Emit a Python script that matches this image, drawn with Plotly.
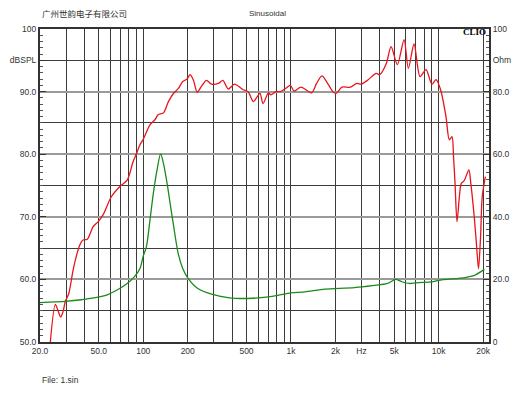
import math
import plotly.graph_objects as go

# ---------------- data ----------------
spl_freq = [23.0, 25.4, 26.5, 27.6, 28.6, 29.7, 31.3, 33.5, 35.5, 37.2, 39.1, 41.8, 45.7, 49.4,
            53.4, 60.8, 69.2, 78.0, 85.3, 90.0, 95.0, 100, 111, 120, 126, 137, 148, 160, 173,
            185, 198, 207, 218, 232, 247, 268, 290, 322, 346, 376, 415, 474, 511, 557, 591,
            617, 647, 703, 730, 793, 851, 920, 989, 1050, 1170, 1380, 1490, 1620, 1740, 1920,
            2020, 2210, 2520, 2790, 3000, 3330, 3780, 3980, 4420, 4760, 5250, 5830, 6230,
            6810, 7480, 8200, 9000, 9600, 10300, 11200, 11800, 12300, 12600, 12900, 13300,
            13800, 14200, 14900, 16000, 16500, 17400, 18000, 18600, 19200, 19700, 20700]
spl_db = [47.5, 56.0, 55.0, 54.0, 54.8, 56.5, 57.7, 61.5, 64.0, 65.5, 66.3, 66.4, 68.4, 69.2,
          70.3, 73.2, 74.8, 75.9, 78.8, 80.1, 81.5, 82.4, 84.7, 85.5, 86.3, 86.6, 88.4, 89.7, 90.5,
          91.6, 92.0, 92.7, 91.9, 89.9, 90.8, 91.8, 91.2, 91.3, 91.8, 90.4, 91.2, 90.3, 90.0, 88.4, 89.2,
          89.7, 88.1, 89.8, 89.5, 90.0, 90.0, 90.5, 91.0, 90.1, 90.7, 89.8, 91.3, 92.5, 91.6, 90.0,
          89.7, 90.7, 90.7, 91.3, 91.2, 91.9, 92.9, 92.7, 94.5, 97.2, 94.3, 98.3, 93.7,
          97.6, 92.4, 93.5, 91.2, 91.9, 90.3, 86.0, 82.3, 82.8, 79.6, 75.3, 69.2,
          73.2, 75.3, 75.8, 77.5, 75.3, 70.0, 65.7, 61.7, 66.8, 73.2, 76.4]

imp_freq = [20, 29.7, 38, 55, 67, 77, 87, 95, 100, 105, 111, 117, 124, 131, 137, 145, 152,
            160, 172, 185, 200, 234, 290, 374, 490, 599, 700, 816, 1000, 1240, 1700, 2700,
            4500, 5100, 5600, 6300, 7300, 9000, 10000, 15100, 17300, 20400]
imp_ohm = [12.6, 13.0, 13.5, 14.8, 16.7, 18.5, 20.8, 23.5, 27.5, 30.4, 38.9, 47.5, 55.0, 60.1,
           57.1, 50.7, 44.3, 37.5, 28.5, 23.5, 20.5, 17.1, 15.3, 14.2, 13.9, 14.1, 14.4, 14.9,
           15.7, 16.0, 16.9, 17.4, 18.7, 20.0, 19.3, 18.7, 19.0, 19.2, 19.7, 20.6, 21.2, 23.2]

x_tick_vals = [20, 50, 100, 200, 500, 1000, 2000, 3000, 5000, 10000, 20000]
x_tick_text = ["20.0", "50.0", "100", "200", "500", "1k", "2k", "Hz", "5k", "10k", "20k"]
x_minor_vals = [30, 40, 60, 70, 80, 90, 300, 400, 600, 700, 800, 900,
                4000, 6000, 7000, 8000, 9000]

y_left_vals = [50, 60, 70, 80, 90, 95, 100]
y_left_text = ["50.0", "60.0", "70.0", "80.0", "90.0", "dBSPL", "100"]
y_right_vals = [0, 20, 40, 60, 80, 90, 100]
y_right_text = ["0", "20.0", "40.0", "60.0", "80.0", "Ohm", "100"]
grid_major_db = [60, 70, 80, 90]
grid_minor_db = [55, 65, 75, 85, 95]

# ---------------- figure ----------------
FONT = "Liberation Sans, Arial, sans-serif"
TXT = "#333333"
GRID = "#3c3c3c"

fig = go.Figure()
# empty helper trace so that the grid-only axis (y3) is rendered
fig.add_trace(go.Scatter(x=[], y=[], yaxis="y3", mode="lines", hoverinfo="skip",
                         showlegend=False))
fig.add_trace(go.Scatter(x=imp_freq, y=imp_ohm, yaxis="y2", mode="lines",
                         line=dict(color="#1a8a1a", width=1.3, shape="spline", smoothing=0.8),
                         hoverinfo="skip"))
fig.add_trace(go.Scatter(x=spl_freq, y=spl_db, mode="lines",
                         line=dict(color="#e8141b", width=1.3, shape="spline", smoothing=0.8),
                         hoverinfo="skip"))

# page body has an 8px default margin, so the figure is slightly smaller
fig.update_layout(
    width=522, height=390,
    margin=dict(l=32, r=41, t=21, b=56, autoexpand=False),
    paper_bgcolor="white", plot_bgcolor="white",
    showlegend=False,
    font=dict(family=FONT, size=8.5, color=TXT),
    xaxis=dict(type="log", range=[math.log10(20), math.log10(21900)],
               tickmode="array", tickvals=x_tick_vals, ticktext=x_tick_text,
               ticks="", showgrid=True, gridcolor=GRID, gridwidth=1,
               minor=dict(tickvals=x_minor_vals, showgrid=True, gridcolor=GRID,
                          gridwidth=1, ticks=""),
               showline=True, mirror=True, linecolor="#333333", linewidth=2,
               zeroline=False, tickfont=dict(size=8.5, color=TXT), automargin=False),
    yaxis=dict(range=[50, 100], tickmode="array", tickvals=y_left_vals, ticktext=y_left_text,
               ticks="inside", ticklen=6, tickcolor="#333333", showgrid=False,
               minor=dict(dtick=1, ticks="inside", ticklen=3, tickcolor="#555555",
                          showgrid=False),
               showline=True, linecolor="#333333", linewidth=2, zeroline=False,
               tickfont=dict(size=8.5, color=TXT), automargin=False),
    yaxis2=dict(overlaying="y", side="right", range=[0, 100], tickmode="array",
                tickvals=y_right_vals, ticktext=y_right_text,
                ticks="inside", ticklen=6, tickcolor="#333333", showgrid=False,
                minor=dict(dtick=2, ticks="inside", ticklen=3, tickcolor="#555555",
                           showgrid=False),
                showline=True, linecolor="#333333", linewidth=2, zeroline=False,
                tickfont=dict(size=8.5, color=TXT), automargin=False),
    yaxis3=dict(overlaying="y", range=[50, 100], tickmode="array", tickvals=grid_major_db,
                showticklabels=False, ticks="", showgrid=True, gridcolor="#9a9a9a",
                gridwidth=2,
                minor=dict(tickvals=grid_minor_db, showgrid=True, gridcolor=GRID,
                           gridwidth=1, ticks=""),
                showline=False, zeroline=False, automargin=False),
)

fig.add_annotation(text="广州世韵电子有限公司", xref="paper", yref="paper",
                   x=0.0, y=(342 - 13) / 313, xanchor="left", yanchor="middle",
                   showarrow=False,
                   font=dict(family="Noto Sans CJK SC", size=8.5, color=TXT))
fig.add_annotation(text="Sinusoidal", xref="paper", yref="paper",
                   x=(246.5 - 40) / 449, y=(342 - 13) / 313, xanchor="left", yanchor="middle",
                   showarrow=False, font=dict(family=FONT, size=8, color=TXT))
fig.add_annotation(text="<b>CLIO</b>", xref="paper", yref="paper",
                   x=(488 - 40) / 449, y=(342 - 32) / 313, xanchor="right", yanchor="middle",
                   showarrow=False,
                   font=dict(family="Liberation Serif, Times New Roman, serif", size=9,
                             color="black"))
fig.add_annotation(text="File: 1.sin", xref="paper", yref="paper",
                   x=0.0, y=(342 - 380) / 313, xanchor="left", yanchor="middle",
                   showarrow=False, font=dict(family=FONT, size=8.5, color=TXT))

fig.write_html("out.html")
